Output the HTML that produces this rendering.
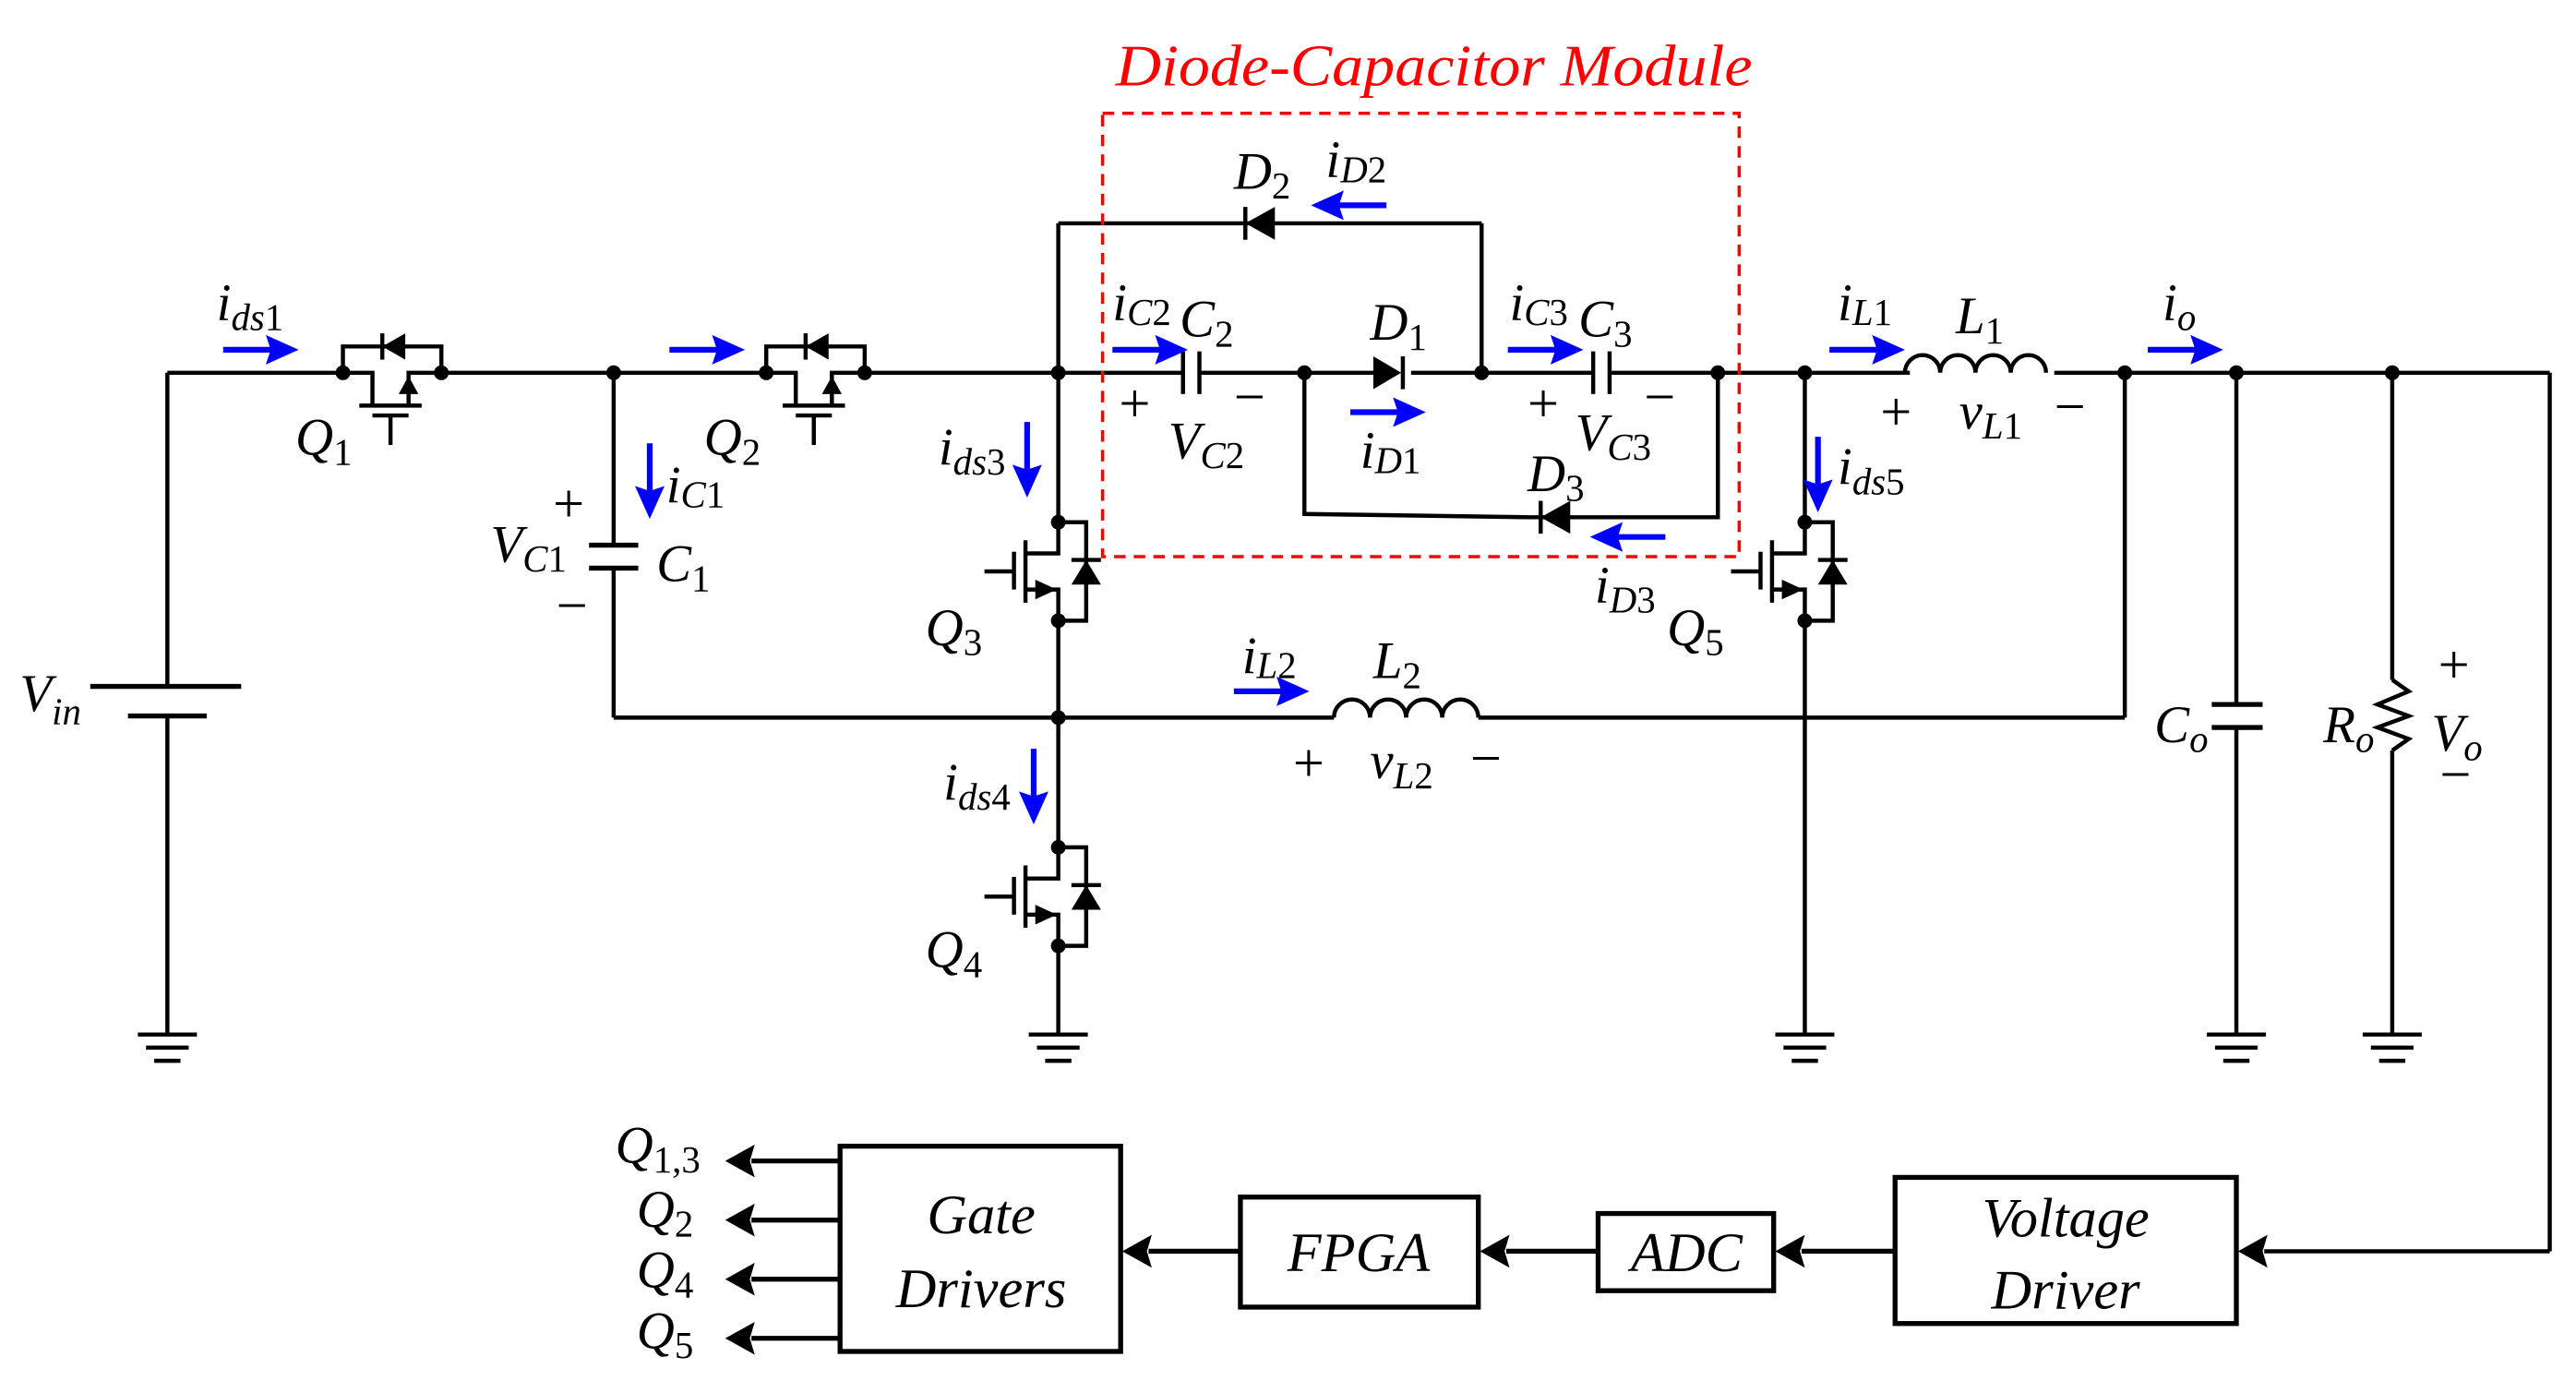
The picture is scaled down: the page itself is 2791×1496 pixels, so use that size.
<!DOCTYPE html>
<html><head><meta charset="utf-8"><style>
html,body{margin:0;padding:0;background:#fff;}
svg{display:block;}
text{font-family:"Liberation Serif",serif;font-style:italic;fill:#000;}
.s{font-size:23px;}
.u{font-style:normal;}
.pm{font-style:normal;font-size:34px;}
</style></head><body>
<svg width="2791" height="1496" viewBox="-2 0 1570 841" preserveAspectRatio="none" xmlns="http://www.w3.org/2000/svg">
<defs>
<g id="gnd"><line x1="-18" y1="0" x2="18" y2="0"/><line x1="-13" y1="8" x2="13" y2="8"/><line x1="-8" y1="16" x2="8" y2="16"/></g>
<g id="mos">
<path d="M0,0 H17 V60 H0" fill="none"/>
<line x1="8" y1="23" x2="26" y2="23"/>
<polygon points="17,23 8,38 26,38" fill="#000" stroke="none"/>
<path d="M0,0 V19 H-20 M0,60 V41 H-20" fill="none"/>
<polygon points="-1,41 -14,35 -14,47" fill="#000" stroke="none"/>
<line x1="-20" y1="11" x2="-20" y2="49"/>
<line x1="-27" y1="18" x2="-27" y2="41"/>
<line x1="-45" y1="30" x2="-27" y2="30"/>
<circle cx="0" cy="0" r="4.5" fill="#000" stroke="none"/>
<circle cx="0" cy="60" r="4.5" fill="#000" stroke="none"/>
</g>
<g id="hmos">
<path d="M0,0 V-16 H60 V0" fill="none"/>
<line x1="24" y1="-24" x2="24" y2="-8"/>
<polygon points="24,-16 38,-24 38,-8" fill="#000" stroke="none"/>
<path d="M0,0 H18 V20 M60,0 H40 V20" fill="none"/>
<polygon points="40,2 34,13 46,13" fill="#000" stroke="none"/>
<line x1="10" y1="20" x2="48" y2="20"/>
<line x1="18" y1="26" x2="40" y2="26"/>
<line x1="29" y1="26" x2="29" y2="44"/>
<circle cx="0" cy="0" r="4.5" fill="#000" stroke="none"/>
<circle cx="60" cy="0" r="4.5" fill="#000" stroke="none"/>
</g>
<g id="ar"><line x1="0" y1="0" x2="30" y2="0" stroke="#00f" stroke-width="3.5"/><polygon points="46,0 26,-9 29,0 26,9" fill="#00f" stroke="none"/></g>
<g id="dot"><circle r="4.5" fill="#000"/></g>
</defs>
<g stroke="#000" stroke-width="2.5" fill="none">
<line x1="100" y1="227" x2="207" y2="227"/>
<line x1="267" y1="227" x2="465" y2="227"/>
<line x1="525" y1="227" x2="718" y2="227"/>
<line x1="730" y1="227" x2="835" y2="227"/>
<line x1="858" y1="227" x2="968" y2="227"/>
<line x1="980" y1="227" x2="1162" y2="227"/>
<line x1="1250" y1="227" x2="1552" y2="227"/>
<line x1="1552" y1="227" x2="1552" y2="762"/>
<line x1="1552" y1="762" x2="1378" y2="762"/>
<line x1="100" y1="227" x2="100" y2="418"/>
<line x1="53" y1="418" x2="145" y2="418" stroke-width="3"/>
<line x1="76" y1="436" x2="124" y2="436" stroke-width="3"/>
<line x1="100" y1="436" x2="100" y2="630"/>
<use href="#gnd" x="100" y="630"/>
<use href="#hmos" x="207" y="227"/>
<use href="#hmos" x="465" y="227"/>
<line x1="372" y1="227" x2="372" y2="332"/>
<line x1="357" y1="332" x2="387" y2="332" stroke-width="3"/>
<line x1="357" y1="346" x2="387" y2="346" stroke-width="3"/>
<line x1="372" y1="346" x2="372" y2="437"/>
<line x1="372" y1="437" x2="811" y2="437"/>
<path d="M811,437 a11,11 0 0 1 22,0 a11,11 0 0 1 22,0 a11,11 0 0 1 22,0 a11,11 0 0 1 22,0"/>
<line x1="899" y1="437" x2="1293" y2="437"/>
<line x1="1293" y1="227" x2="1293" y2="437"/>
<line x1="643" y1="136" x2="643" y2="318"/>
<use href="#mos" x="643" y="318"/>
<line x1="643" y1="378" x2="643" y2="516"/>
<use href="#mos" x="643" y="516"/>
<line x1="643" y1="576" x2="643" y2="630"/>
<use href="#gnd" x="643" y="630"/>
<line x1="643" y1="136" x2="901" y2="136"/>
<line x1="901" y1="136" x2="901" y2="227"/>
<polygon points="757,136 775,126 775,146" fill="#000" stroke="none"/>
<line x1="757" y1="126" x2="757" y2="146"/>
<line x1="719" y1="214" x2="719" y2="240"/>
<line x1="729" y1="214" x2="729" y2="240"/>
<polygon points="835,217 835,237 852,227" fill="#000" stroke="none"/>
<line x1="853" y1="217" x2="853" y2="237"/>
<line x1="969" y1="214" x2="969" y2="240"/>
<line x1="979" y1="214" x2="979" y2="240"/>
<path d="M793,227 V313 L930,315 H1045 V227"/>
<polygon points="937,315 955,305 955,325" fill="#000" stroke="none"/>
<line x1="937" y1="305" x2="937" y2="325"/>
<line x1="1098" y1="227" x2="1098" y2="318"/>
<use href="#mos" x="1098" y="318"/>
<line x1="1098" y1="378" x2="1098" y2="630"/>
<use href="#gnd" x="1098" y="630"/>
<path d="M1159,227 a10.75,10.75 0 0 1 21.5,0 a10.75,10.75 0 0 1 21.5,0 a10.75,10.75 0 0 1 21.5,0 a10.75,10.75 0 0 1 21.5,0"/>
<line x1="1361" y1="227" x2="1361" y2="429"/>
<line x1="1346" y1="429" x2="1377" y2="429" stroke-width="3"/>
<line x1="1346" y1="443" x2="1377" y2="443" stroke-width="3"/>
<line x1="1361" y1="443" x2="1361" y2="630"/>
<use href="#gnd" x="1361" y="630"/>
<line x1="1456" y1="227" x2="1456" y2="414"/>
<polyline points="1456,414 1466,421 1447,429 1466,436 1447,443 1466,450 1456,457"/>
<line x1="1456" y1="457" x2="1456" y2="630"/>
<use href="#gnd" x="1456" y="630"/>
<rect x="670" y="69" width="388" height="270" stroke="#f00" stroke-width="2" stroke-dasharray="7,5"/>
<rect x="510" y="698" width="171" height="125" stroke-width="3"/>
<rect x="754" y="729" width="145" height="67" stroke-width="3"/>
<rect x="972" y="739" width="107" height="47" stroke-width="3"/>
<rect x="1153" y="717" width="208" height="89" stroke-width="3"/>
<line x1="754" y1="762" x2="698" y2="762" stroke-width="3"/>
<line x1="972" y1="762" x2="916" y2="762" stroke-width="3"/>
<line x1="1153" y1="762" x2="1096" y2="762" stroke-width="3"/>
<line x1="510" y1="707" x2="456" y2="707" stroke-width="3"/>
<line x1="510" y1="743" x2="456" y2="743" stroke-width="3"/>
<line x1="510" y1="779" x2="456" y2="779" stroke-width="3"/>
<line x1="510" y1="815" x2="456" y2="815" stroke-width="3"/>
</g>
<g fill="#000">
<polygon points="682,762 700,752 697,762 700,772"/>
<polygon points="900,762 918,752 915,762 918,772"/>
<polygon points="1080,762 1098,752 1095,762 1098,772"/>
<polygon points="1362,762 1380,752 1377,762 1380,772"/>
<polygon points="440,707 458,697 455,707 458,717"/>
<polygon points="440,743 458,733 455,743 458,753"/>
<polygon points="440,779 458,769 455,779 458,789"/>
<polygon points="440,815 458,805 455,815 458,825"/>
<use href="#dot" x="372" y="227"/><use href="#dot" x="643" y="227"/><use href="#dot" x="793" y="227"/>
<use href="#dot" x="901" y="227"/><use href="#dot" x="1045" y="227"/><use href="#dot" x="1098" y="227"/>
<use href="#dot" x="1293" y="227"/><use href="#dot" x="1361" y="227"/><use href="#dot" x="1456" y="227"/>
<use href="#dot" x="643" y="437"/>
</g>
<use href="#ar" x="134" y="213"/>
<use href="#ar" x="406" y="213"/>
<use href="#ar" x="676" y="213"/>
<use href="#ar" x="917" y="213"/>
<use href="#ar" x="1113" y="213"/>
<use href="#ar" x="1307" y="213"/>
<use href="#ar" x="821" y="251"/>
<use href="#ar" x="750" y="421"/>
<use href="#ar" transform="translate(843,125) rotate(180)"/>
<use href="#ar" transform="translate(1013,327) rotate(180)"/>
<use href="#ar" transform="translate(394,270) rotate(90)"/>
<use href="#ar" transform="translate(624,257) rotate(90)"/>
<use href="#ar" transform="translate(1106,266) rotate(90)"/>
<use href="#ar" transform="translate(628,456) rotate(90)"/>
<text x="678" y="52" textLength="388" lengthAdjust="spacingAndGlyphs" font-size="36" style="fill:#f00">Diode-Capacitor Module</text>
<g font-size="32">
<text x="130" y="195">i<tspan class="s" dy="6">ds</tspan><tspan class="s u">1</tspan></text>
<text x="178" y="277">Q<tspan class="s u" dy="6">1</tspan></text>
<text x="427" y="277">Q<tspan class="s u" dy="6">2</tspan></text>
<text x="562" y="393">Q<tspan class="s u" dy="6">3</tspan></text>
<text x="562" y="589">Q<tspan class="s u" dy="6">4</tspan></text>
<text x="1014" y="393">Q<tspan class="s u" dy="6">5</tspan></text>
<text x="10" y="433">V<tspan class="s" dy="8">in</tspan></text>
<text x="297" y="342">V<tspan class="s" dy="6">C</tspan><tspan class="s u">1</tspan></text>
<text x="335" y="318" class="pm">+</text>
<text x="337" y="380" class="pm">−</text>
<text x="398" y="354">C<tspan class="s u" dy="6">1</tspan></text>
<text x="404" y="306">i<tspan class="s" dy="3">C</tspan><tspan class="s u">1</tspan></text>
<text x="676" y="195">i<tspan class="s" dy="3">C</tspan><tspan class="s u">2</tspan></text>
<text x="717" y="205">C<tspan class="s u" dy="6">2</tspan></text>
<text x="680" y="257" class="pm">+</text>
<text x="750" y="253" class="pm">−</text>
<text x="710" y="279">V<tspan class="s" dy="6">C</tspan><tspan class="s u">2</tspan></text>
<text x="833" y="207">D<tspan class="s u" dy="6">1</tspan></text>
<text x="827" y="285">i<tspan class="s" dy="3">D</tspan><tspan class="s u">1</tspan></text>
<text x="750" y="115">D<tspan class="s u" dy="6">2</tspan></text>
<text x="806" y="108">i<tspan class="s" dy="3">D</tspan><tspan class="s u">2</tspan></text>
<text x="918" y="195">i<tspan class="s" dy="3">C</tspan><tspan class="s u">3</tspan></text>
<text x="960" y="205">C<tspan class="s u" dy="6">3</tspan></text>
<text x="929" y="257" class="pm">+</text>
<text x="1000" y="253" class="pm">−</text>
<text x="958" y="274">V<tspan class="s" dy="6">C</tspan><tspan class="s u">3</tspan></text>
<text x="929" y="299">D<tspan class="s u" dy="6">3</tspan></text>
<text x="970" y="367">i<tspan class="s" dy="6">D</tspan><tspan class="s u">3</tspan></text>
<text x="570" y="283">i<tspan class="s" dy="6">ds</tspan><tspan class="s u">3</tspan></text>
<text x="1118" y="295">i<tspan class="s" dy="6">ds</tspan><tspan class="s u">5</tspan></text>
<text x="573" y="487">i<tspan class="s" dy="6">ds</tspan><tspan class="s u">4</tspan></text>
<text x="1118" y="195">i<tspan class="s" dy="3">L</tspan><tspan class="s u">1</tspan></text>
<text x="1190" y="203">L<tspan class="s u" dy="6">1</tspan></text>
<text x="1144" y="262" class="pm">+</text>
<text x="1192" y="261">v<tspan class="s" dy="6">L</tspan><tspan class="s u">1</tspan></text>
<text x="1250" y="259" class="pm">−</text>
<text x="1316" y="195">i<tspan class="s" dy="6">o</tspan></text>
<text x="1311" y="452">C<tspan class="s" dy="6">o</tspan></text>
<text x="1414" y="452">R<tspan class="s" dy="6">o</tspan></text>
<text x="1484" y="416" class="pm">+</text>
<text x="1480" y="457">V<tspan class="s" dy="6">o</tspan></text>
<text x="1485" y="483" class="pm">−</text>
<text x="755" y="410">i<tspan class="s" dy="3">L</tspan><tspan class="s u">2</tspan></text>
<text x="835" y="413">L<tspan class="s u" dy="6">2</tspan></text>
<text x="786" y="476" class="pm">+</text>
<text x="833" y="474">v<tspan class="s" dy="6">L</tspan><tspan class="s u">2</tspan></text>
<text x="894" y="473" class="pm">−</text>
<text x="373" y="708">Q<tspan class="s u" dy="6">1,3</tspan></text>
<text x="386" y="747">Q<tspan class="s u" dy="6">2</tspan></text>
<text x="386" y="784">Q<tspan class="s u" dy="6">4</tspan></text>
<text x="386" y="821">Q<tspan class="s u" dy="6">5</tspan></text>
<text x="596" y="751" text-anchor="middle" font-size="34">Gate</text>
<text x="596" y="796" text-anchor="middle" font-size="34">Drivers</text>
<text x="826" y="774" text-anchor="middle" font-size="34">FPGA</text>
<text x="1026" y="774" text-anchor="middle" font-size="34">ADC</text>
<text x="1257" y="753" text-anchor="middle" font-size="34">Voltage</text>
<text x="1257" y="797" text-anchor="middle" font-size="34">Driver</text>
</g>
</svg>
</body></html>
